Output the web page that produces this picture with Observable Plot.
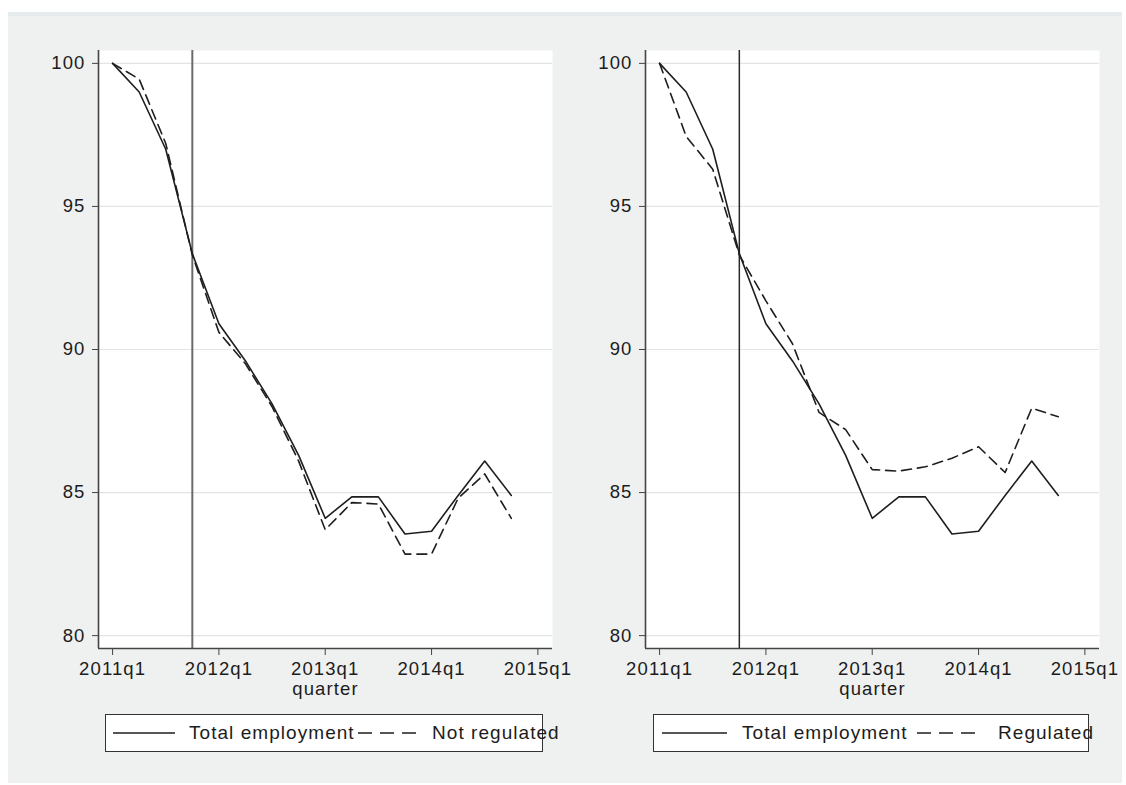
<!DOCTYPE html>
<html>
<head>
<meta charset="utf-8">
<script src="https://cdn.jsdelivr.net/npm/d3@7"></script>
<script src="https://cdn.jsdelivr.net/npm/@observablehq/plot@0.6"></script>
<style>
  html, body { margin: 0; padding: 0; background: #ffffff; }
  #page { position: relative; width: 1126px; height: 785px; overflow: hidden; font-family: "Liberation Sans", Arial, sans-serif; }
  #bg { position: absolute; left: 8px; top: 12px; width: 1114px; height: 771px; background: #eff0f0; border-top: 4px solid #e6ecee; box-sizing: border-box; }
  .panel { position: absolute; top: 0; }
  .panel svg { background: transparent !important; overflow: visible; }
  .legend { position: absolute; top: 714px; height: 38px; box-sizing: border-box; border: 1.6px solid #333; background: #fff; }
  .lg { position: absolute; top: 0; height: 38px; line-height: 38px; font-size: 19px; letter-spacing: 1.05px; color: #1c1c1c; white-space: nowrap; }
  .sw { position: absolute; }
</style>
</head>
<body>
<div id="page">
  <div id="bg"></div>
  <div id="left" class="panel" style="left:0px"></div>
  <div id="right" class="panel" style="left:547px"></div>
</div>
<script>
// ---- data ----
const quarters = ["2011q1","2011q2","2011q3","2011q4","2012q1","2012q2","2012q3","2012q4",
                  "2013q1","2013q2","2013q3","2013q4","2014q1","2014q2","2014q3","2014q4"];
const totalEmployment = [100, 99.0, 97.0, 93.35, 90.9, 89.6, 88.1, 86.3,
                         84.1, 84.85, 84.85, 83.55, 83.65, 84.9, 86.1, 84.9];
const notRegulated    = [100, 99.45, 97.2, 93.3, 90.6, 89.5, 88.0, 86.1,
                         83.7, 84.65, 84.6, 82.85, 82.85, 84.8, 85.65, 84.1];
const regulated       = [100, 97.45, 96.3, 93.3, 91.7, 90.2, 87.8, 87.2,
                         85.8, 85.75, 85.9, 86.2, 86.6, 85.7, 87.95, 87.65];
const xTickLabels = ["2011q1","2012q1","2013q1","2014q1","2015q1"];
const yTicks = [80, 85, 90, 95, 100];
const reformQuarter = "2011q4";
const legendLeft = ["Total employment", "Not regulated"];
const legendRight = ["Total employment", "Regulated"];

const qIndex = q => { const y = +q.slice(0,4), k = +q.slice(5); return (y - 2011) * 4 + (k - 1); };
const xTickPos = xTickLabels.map(qIndex);

function rows(vals) { return quarters.map((q, i) => ({x: qIndex(q), y: vals[i]})); }

function panel(dashedVals, vlineColor, vlineWidth) {
  const xDom = [-0.53, 16.55];
  const yDom = [79.55, 100.45];
  return Plot.plot({
    width: 560, height: 720,
    marginLeft: 98, marginRight: 8, marginTop: 50, marginBottom: 72,
    style: { fontFamily: "Liberation Sans, Arial, sans-serif", fontSize: "18.5px", color: "#1c1c1c", background: "transparent" },
    x: { domain: xDom },
    y: { domain: yDom },
    marks: [
      Plot.frame({ fill: "#ffffff", stroke: "none" }),
      Plot.gridY(yTicks, { stroke: "#e4e4e4", strokeOpacity: 1, strokeWidth: 1.2 }),
      Plot.ruleX([qIndex(reformQuarter)], { stroke: vlineColor, strokeWidth: vlineWidth }),
      Plot.line(rows(totalEmployment), { x: "x", y: "y", stroke: "#1e1e1e", strokeWidth: 1.6 }),
      Plot.line(rows(dashedVals), { x: "x", y: "y", stroke: "#1e1e1e", strokeWidth: 1.6, strokeDasharray: "10,6" }),
      Plot.ruleX([xDom[0]], { stroke: "#444", strokeWidth: 1.6 }),
      Plot.ruleY([yDom[0]], { stroke: "#444", strokeWidth: 1.6 }),
      Plot.axisY(yTicks, { tickSize: 6, tickPadding: 7, stroke: "#444", label: null, fontSize: 18.5 }),
      Plot.axisX(xTickPos, { tickSize: 7, tickPadding: 6, stroke: "#444",
                             tickFormat: (d, i) => xTickLabels[i],
                             label: "quarter", labelAnchor: "center", labelArrow: "none", labelOffset: 46,
                             fontSize: 18.5 })
    ]
  });
}

const L = panel(notRegulated, "#6a6a6a", 2);
const R = panel(regulated, "#2a2a2a", 1.5);
document.getElementById("left").appendChild(L);
document.getElementById("right").appendChild(R);
document.querySelectorAll(".panel svg text").forEach(t => t.style.letterSpacing = "1.1px");

// ---- legends (HTML) ----
function legend(left, width, labels, pos) {
  const page = document.getElementById("page");
  const box = document.createElement("div");
  box.className = "legend";
  box.style.left = left + "px";
  box.style.width = width + "px";
  page.appendChild(box);
  const ns = "http://www.w3.org/2000/svg";
  const mk = (x1, x2, dashed) => {
    const s = document.createElementNS(ns, "svg");
    s.setAttribute("class", "sw");
    s.setAttribute("width", x2 - x1); s.setAttribute("height", 38);
    s.style.left = x1 + "px"; s.style.top = "714px"; s.style.position = "absolute";
    const l = document.createElementNS(ns, "line");
    l.setAttribute("x1", 0); l.setAttribute("x2", x2 - x1);
    l.setAttribute("y1", 19); l.setAttribute("y2", 19);
    l.setAttribute("stroke", "#1e1e1e"); l.setAttribute("stroke-width", 1.6);
    if (dashed) l.setAttribute("stroke-dasharray", "14,8");
    s.appendChild(l);
    page.appendChild(s);
  };
  mk(pos[0], pos[1], false);
  const t1 = document.createElement("div"); t1.className = "lg"; t1.textContent = labels[0];
  t1.style.left = pos[2] + "px"; t1.style.top = "714px";
  page.appendChild(t1);
  mk(pos[3], pos[4], true);
  const t2 = document.createElement("div"); t2.className = "lg"; t2.textContent = labels[1];
  t2.style.left = pos[5] + "px"; t2.style.top = "714px";
  page.appendChild(t2);
}
legend(105, 438, legendLeft, [113, 175, 189, 358, 421, 432]);
legend(653, 436, legendRight, [662, 727, 742, 917, 982, 998]);
</script>
</body>
</html>
